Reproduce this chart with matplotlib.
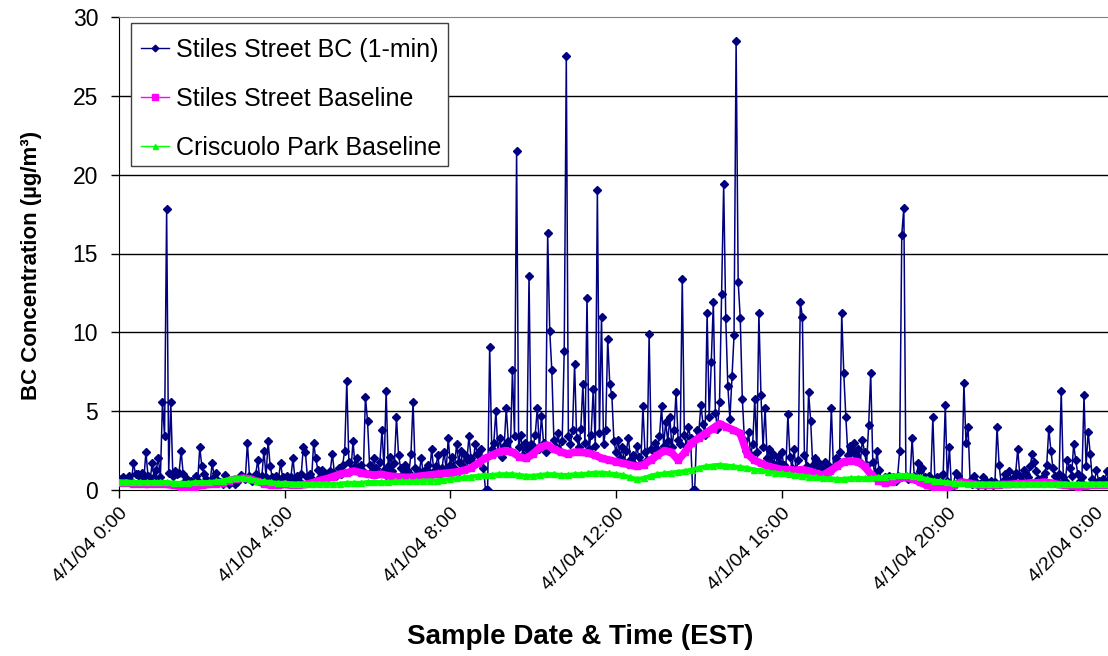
import matplotlib
matplotlib.use("Agg")
import matplotlib.pyplot as plt
import matplotlib.transforms as mtransforms
from matplotlib.patches import Rectangle
import numpy as np

plt.rcParams["font.family"] = ["Liberation Sans", "DejaVu Sans"]

# ---- data ----
# Stiles Street BC, one value every 3 minutes, one row per hour (0:00 .. 23:57)
BC_STEP = 3
bc_rows = [
    [0.7, 0.6, 0.8, 0.5, 0.7, 0.9, 0.6, 1.7, 1.0, 1.0, 0.8, 1.1, 0.7, 2.4, 0.9, 0.6, 1.7, 0.8, 1.3, 2.0],  # 0
    [0.8, 5.6, 3.4, 17.8, 1.1, 5.6, 0.9, 1.2, 1.0, 1.1, 2.5, 1.0, 0.6, 0.7, 0.5, 0.6, 0.5, 0.9, 0.6, 2.7],  # 1
    [1.5, 1.0, 0.7, 0.6, 0.5, 1.7, 0.8, 1.1, 0.6, 0.5, 0.4, 0.95, 0.5, 0.4, 0.6, 0.5, 0.4, 0.5, 0.7, 0.95],  # 2
    [0.8, 0.7, 3.0, 0.9, 0.6, 0.8, 1.0, 1.9, 0.7, 0.9, 2.5, 0.8, 3.1, 1.5, 0.8, 0.6, 0.9, 0.7, 1.7, 0.8],  # 3
    [0.7, 0.9, 0.6, 0.8, 2.0, 0.7, 0.9, 0.6, 1.0, 2.7, 2.4, 0.8, 1.0, 0.7, 3.0, 2.0, 1.3, 0.8, 1.3, 0.9],  # 4
    [1.0, 0.8, 1.2, 2.3, 1.1, 0.9, 1.4, 1.0, 1.6, 2.5, 6.9, 1.8, 1.2, 3.1, 1.5, 2.0, 1.3, 1.6, 1.2, 5.9],  # 5
    [4.4, 1.6, 1.2, 2.0, 1.4, 1.1, 1.8, 3.8, 1.3, 6.3, 1.5, 2.1, 1.2, 1.7, 4.6, 2.2, 1.4, 1.0, 1.6, 1.3],  # 6
    [1.1, 2.3, 5.6, 1.4, 1.0, 1.2, 2.0, 0.9, 1.3, 1.6, 1.1, 2.6, 1.2, 1.5, 2.2, 1.0, 1.4, 2.4, 1.3, 3.3],  # 7
    [1.6, 2.1, 1.4, 2.9, 1.8, 2.5, 1.5, 2.2, 1.9, 3.4, 2.0, 1.7, 2.9, 2.3, 1.8, 2.6, 1.4, 0.0, 0.0, 9.1],  # 8
    [2.6, 3.0, 5.0, 2.4, 3.3, 2.1, 2.8, 5.2, 3.1, 2.5, 7.6, 3.4, 21.5, 2.7, 3.5, 2.2, 3.0, 2.6, 13.6, 2.9],  # 9
    [2.8, 3.5, 5.2, 2.6, 4.7, 3.0, 2.4, 16.3, 10.1, 7.6, 3.2, 2.7, 3.6, 2.5, 3.1, 8.8, 27.5, 3.4, 2.9, 3.8],  # 10
    [8.0, 3.3, 2.7, 3.9, 6.7, 3.0, 12.2, 2.6, 3.5, 6.4, 2.8, 19.0, 3.6, 11.0, 2.9, 3.8, 9.6, 6.7, 6.0, 3.1],  # 11
    [2.4, 3.2, 2.0, 2.7, 1.8, 2.5, 3.3, 1.9, 2.2, 1.6, 2.8, 2.1, 1.7, 5.3, 2.4, 1.9, 9.9, 2.6, 2.0, 3.0],  # 12
    [2.6, 3.4, 5.3, 2.8, 4.3, 3.1, 4.6, 2.7, 3.8, 6.2, 3.2, 2.9, 13.4, 3.5, 2.8, 4.0, 3.3, 0.0, 0.0, 3.8],  # 13
    [3.7, 5.4, 4.2, 3.5, 11.2, 4.6, 8.1, 11.9, 4.9, 3.9, 5.6, 12.4, 19.4, 10.9, 6.6, 4.5, 7.2, 9.8, 28.5, 13.2],  # 14
    [10.9, 5.8, 3.2, 2.5, 3.7, 2.2, 2.9, 5.8, 2.4, 11.2, 6.0, 2.7, 5.2, 2.0, 2.6, 1.8, 2.3, 1.5, 2.1, 1.7],  # 15
    [2.4, 1.6, 1.3, 4.8, 2.1, 1.4, 2.6, 1.2, 1.9, 11.9, 11.0, 2.2, 1.5, 6.2, 4.4, 1.6, 2.0, 1.2, 1.7, 1.4],  # 16
    [1.3, 1.8, 1.0, 1.5, 5.2, 1.4, 2.0, 1.6, 2.4, 11.2, 7.4, 4.6, 2.2, 2.8, 2.5, 3.0, 2.2, 2.6, 1.8, 3.2],  # 17
    [2.4, 1.6, 4.1, 7.4, 1.8, 1.0, 2.5, 1.3, 0.7, 0.6, 0.8, 0.6, 0.9, 0.7, 0.8, 0.6, 0.9, 2.5, 16.2, 17.9],  # 18
    [0.9, 0.7, 0.8, 3.3, 0.9, 0.7, 1.7, 1.2, 1.4, 0.8, 0.6, 0.9, 0.7, 4.6, 0.6, 0.8, 0.7, 0.9, 1.0, 5.4],  # 19
    [0.6, 2.7, 0.1, 0.4, 1.1, 0.9, 0.6, 0.5, 6.8, 3.0, 4.0, 0.6, 0.4, 0.9, 0.5, 0.3, 0.4, 0.8, 0.3, 0.5],  # 20
    [0.4, 0.6, 0.3, 0.5, 4.0, 1.6, 0.4, 0.6, 1.0, 0.7, 1.2, 0.5, 0.8, 1.1, 2.6, 0.9, 0.6, 1.3, 1.0, 0.8],  # 21
    [1.5, 2.3, 1.8, 1.2, 0.7, 0.5, 0.8, 1.1, 1.6, 3.9, 2.5, 1.4, 0.9, 0.6, 1.0, 6.3, 0.8, 0.6, 1.9, 1.4],  # 22
    [0.9, 2.9, 1.9, 1.0, 0.6, 0.8, 6.0, 1.5, 3.7, 2.3, 0.7, 0.5, 1.3, 0.6, 0.4, 0.7, 0.5, 1.2, 0.6, 0.8],  # 23
]

# baselines, one value every 10 minutes, one row per hour
BASE_STEP = 10
stiles_base_rows = [
    [0.45, 0.45, 0.4, 0.4, 0.35, 0.4],
    [0.4, 0.35, 0.3, 0.2, 0.15, 0.2],
    [0.3, 0.35, 0.4, 0.45, 0.6, 0.7],
    [0.75, 0.7, 0.55, 0.4, 0.3, 0.3],
    [0.35, 0.3, 0.3, 0.35, 0.45, 0.6],
    [0.7, 0.85, 1.0, 1.1, 1.2, 1.1],
    [1.0, 0.95, 1.0, 0.9, 0.85, 0.8],
    [0.8, 0.85, 0.9, 0.95, 1.0, 1.05],
    [1.1, 1.15, 1.25, 1.4, 1.7, 2.0],
    [2.2, 2.4, 2.5, 2.4, 2.1, 2.0],
    [2.3, 2.7, 2.85, 2.6, 2.4, 2.3],
    [2.4, 2.4, 2.35, 2.2, 2.0, 1.9],
    [1.8, 1.7, 1.6, 1.5, 1.6, 1.9],
    [2.2, 2.5, 2.4, 1.9, 2.4, 3.0],
    [3.3, 3.6, 3.9, 4.2, 4.0, 3.8],
    [3.6, 2.3, 1.9, 1.7, 1.5, 1.4],
    [1.3, 1.3, 1.25, 1.3, 1.2, 1.05],
    [0.95, 1.2, 1.5, 1.8, 1.85, 1.8],
    [1.5, 0.95, 0.6, 0.45, 0.5, 0.75],
    [0.8, 0.7, 0.5, 0.3, 0.2, 0.15],
    [0.1, 0.3, 0.5, 0.45, 0.35, 0.3],
    [0.3, 0.3, 0.35, 0.35, 0.4, 0.4],
    [0.45, 0.45, 0.5, 0.45, 0.35, 0.3],
    [0.25, 0.2, 0.25, 0.3, 0.3, 0.3],
]
criscuolo_base_rows = [
    [0.5, 0.5, 0.5, 0.5, 0.5, 0.5],
    [0.5, 0.5, 0.45, 0.45, 0.45, 0.5],
    [0.5, 0.5, 0.55, 0.6, 0.7, 0.75],
    [0.75, 0.7, 0.6, 0.55, 0.5, 0.45],
    [0.45, 0.4, 0.4, 0.4, 0.4, 0.4],
    [0.4, 0.4, 0.4, 0.45, 0.45, 0.45],
    [0.5, 0.5, 0.5, 0.5, 0.55, 0.55],
    [0.55, 0.55, 0.6, 0.6, 0.6, 0.65],
    [0.7, 0.75, 0.8, 0.85, 0.9, 0.95],
    [0.95, 1.0, 1.0, 1.0, 0.95, 0.9],
    [0.9, 0.95, 1.0, 1.0, 0.95, 0.95],
    [1.0, 1.0, 1.05, 1.1, 1.1, 1.05],
    [1.0, 0.95, 0.8, 0.7, 0.75, 0.9],
    [1.0, 1.05, 1.1, 1.15, 1.2, 1.3],
    [1.4, 1.5, 1.55, 1.6, 1.55, 1.5],
    [1.45, 1.4, 1.3, 1.25, 1.15, 1.1],
    [1.05, 1.0, 0.95, 0.9, 0.85, 0.8],
    [0.75, 0.75, 0.7, 0.7, 0.75, 0.75],
    [0.75, 0.75, 0.8, 0.85, 0.9, 0.95],
    [0.95, 0.9, 0.8, 0.7, 0.6, 0.55],
    [0.5, 0.45, 0.45, 0.4, 0.4, 0.4],
    [0.4, 0.4, 0.4, 0.4, 0.4, 0.4],
    [0.4, 0.4, 0.4, 0.4, 0.4, 0.4],
    [0.4, 0.4, 0.4, 0.4, 0.4, 0.4],
]

tick_labels = ["4/1/04 0:00", "4/1/04 4:00", "4/1/04 8:00", "4/1/04 12:00",
               "4/1/04 16:00", "4/1/04 20:00", "4/2/04 0:00"]
TICK_STEP = 240  # minutes between labelled ticks

bc = np.concatenate(bc_rows)
bc_t = np.arange(len(bc)) * BC_STEP
st = np.concatenate(stiles_base_rows)
cr = np.concatenate(criscuolo_base_rows)
base_t = np.arange(len(st)) * BASE_STEP

# ---- plot ----
W, H = 1108, 656
fig = plt.figure(figsize=(W / 100, H / 100), dpi=100)
ax = fig.add_axes([119 / W, 1 - 490 / H, (1113 - 119) / W, (490 - 17) / H])

ax.plot(bc_t, bc, color="#000080", lw=1.1, marker="D", ms=4.2,
        mec="#000080", mfc="#000080", label="Stiles Street BC (1-min)", zorder=3)
ax.plot(base_t, st, color="#FF00FF", lw=5.5, marker="s", ms=5.0,
        mec="#FF00FF", mfc="#FF00FF", label="Stiles Street Baseline", zorder=4)
ax.plot(base_t, cr, color="#00FF00", lw=3.0, marker="^", ms=4.5,
        mec="#00FF00", mfc="#00FF00", label="Criscuolo Park Baseline", zorder=5)

ax.set_xlim(0, 1440)
ax.set_ylim(0, 30)
ax.set_yticks(range(0, 31, 5))
tick_pos = [i * TICK_STEP for i in range(len(tick_labels))]
ax.set_xticks(tick_pos)
ax.set_xticklabels([])
# rotated tick labels drawn by hand; the last one is pulled inside the chart
for i, (pos, lbl) in enumerate(zip(tick_pos, tick_labels)):
    dx = -18 if i == len(tick_labels) - 1 else 0
    off = mtransforms.ScaledTranslation(dx / 100, -14.5 / 100, fig.dpi_scale_trans)
    ax.text(pos, 0, lbl, transform=ax.get_xaxis_transform() + off,
            rotation=45, ha="right", va="top", rotation_mode="anchor",
            fontsize=14, clip_on=False)

for y in range(5, 30, 5):
    ax.axhline(y, color="black", lw=1.0, zorder=1)

ax.tick_params(axis="both", direction="out", length=6, width=1, color="black")
ax.tick_params(axis="y", pad=9, labelsize=16.5)
ax.spines["top"].set_color("#808080")
ax.spines["right"].set_visible(False)
for s in ("left", "bottom"):
    ax.spines[s].set_color("black")

ax.set_xlabel("Sample Date & Time (EST)", fontsize=20, fontweight="bold")
ax.xaxis.set_label_coords((580 - 119) / 994, (490 - 624) / 473)
ax.set_ylabel("BC Concentration (\u00b5g/m\u00b3)", fontsize=16,
              fontweight="bold")
ax.yaxis.set_label_coords((42 - 119) / 994, (490 - 265) / 473)

# legend frame drawn separately so its padding matches the original
ax.add_patch(Rectangle((131 / W, 1 - 166 / H), (448 - 131) / W, (166 - 23) / H,
                       transform=fig.transFigure, facecolor="white",
                       edgecolor="#404040", lw=1.0, zorder=6, clip_on=False))
leg = ax.legend(loc="upper left", bbox_to_anchor=(131 / W, 1 - 28 / H),
                bbox_transform=fig.transFigure, borderaxespad=0,
                fontsize=18, frameon=False, numpoints=1,
                handlelength=1.1, handletextpad=0.3, labelspacing=1.0,
                borderpad=0.4, markerscale=0.8)
leg.set_zorder(7)
for ln in leg.get_lines():
    ln.set_linewidth(1.0)

fig.savefig("out.png", dpi=100)
